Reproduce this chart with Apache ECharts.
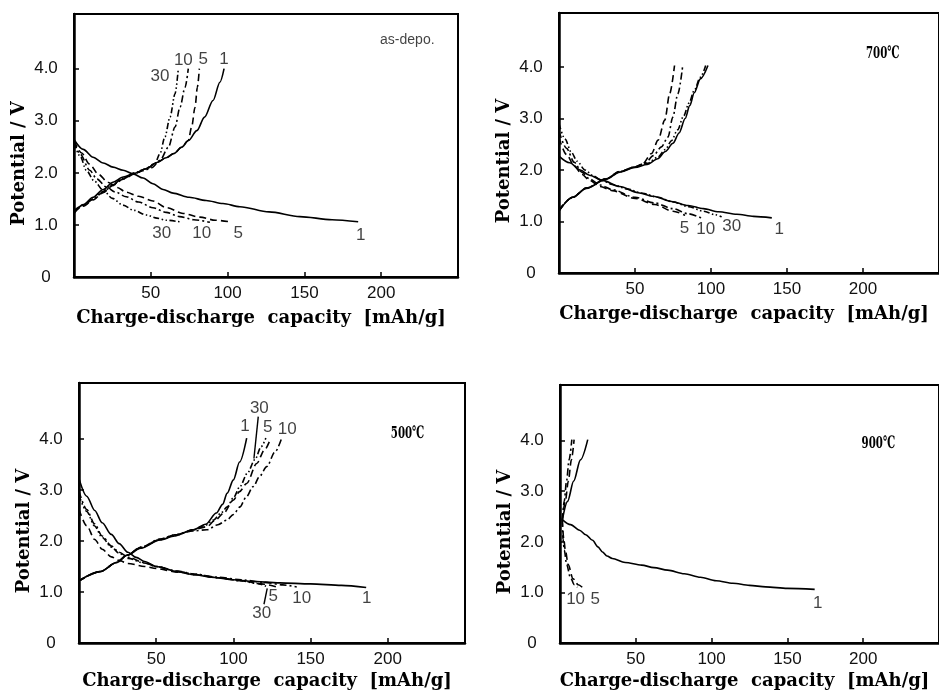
<!DOCTYPE html>
<html>
<head>
<meta charset="utf-8">
<script src="https://cdn.jsdelivr.net/npm/echarts@6/dist/echarts.min.js"></script>
<style>
  html, body { margin: 0; padding: 0; background: #fff; }
  #chart { width: 939px; height: 694px; }
</style>
</head>
<body>
<div id="chart"></div>
<script>
// Charge / discharge curves of the thin-film electrode, [capacity mAh/g, potential V]
// ---------- as-deposited ----------
const asDepoCharge1  = [[0,1.22],[6,1.39],[12.4,1.53],[19,1.68],[25.4,1.82],[32,1.92],[39.5,1.99],[47,2.08],[54,2.2],[60,2.29],[65,2.37],[70,2.49],[74.5,2.62],[80,2.81],[85,3.07],[90.5,3.39],[95,3.74],[97.7,4.0]];
const asDepoCharge5  = [[0,1.24],[6,1.36],[12.4,1.48],[19,1.62],[25.4,1.76],[32,1.88],[39.5,1.98],[47,2.08],[54,2.2],[60,2.29],[65,2.37],[70,2.49],[74.4,2.62],[76.6,2.88],[78.8,3.26],[80.3,3.64],[81.6,4.0]];
const asDepoCharge10 = [[0,1.26],[6,1.37],[12.4,1.49],[19,1.63],[25.4,1.77],[32,1.89],[39.5,1.99],[45,2.04],[50.6,2.1],[56,2.24],[61.4,2.49],[65.8,2.88],[69,3.26],[72.3,3.64],[74.4,4.0]];
const asDepoCharge30 = [[0,1.28],[6,1.38],[12.4,1.5],[19,1.64],[25.4,1.78],[32,1.9],[39.5,2.0],[46,2.07],[52.7,2.18],[56,2.37],[59.2,2.69],[62.5,3.07],[65.8,3.52],[67.9,4.0]];
const asDepoDischarge1  = [[0,2.64],[6,2.45],[12.4,2.3],[19,2.19],[25.4,2.11],[32,2.05],[38.4,1.98],[45,1.9],[51.4,1.79],[58,1.68],[64.5,1.61],[75,1.53],[86,1.47],[97,1.41],[108,1.35],[127,1.25],[147,1.16],[168,1.1],[185,1.06]];
const asDepoDischarge5  = [[0,2.62],[5,2.38],[10,2.17],[16,1.97],[22,1.82],[28,1.72],[34,1.63],[42,1.55],[51.4,1.46],[60.3,1.33],[71,1.22],[82,1.15],[92,1.09],[101.5,1.06]];
const asDepoDischarge10 = [[0,2.6],[4,2.36],[10.2,2.05],[15,1.88],[21,1.73],[27,1.63],[34,1.54],[42,1.44],[51.4,1.33],[60,1.24],[68.8,1.16],[78,1.1],[88.5,1.05]];
const asDepoDischarge30 = [[0,2.58],[4,2.32],[8,2.05],[13,1.85],[18.9,1.67],[25,1.51],[31.9,1.38],[39,1.28],[47.1,1.19],[54,1.13],[60.1,1.09],[68.8,1.06]];

// ---------- annealed at 700 °C ----------
const t700Charge1  = [[0,1.2],[9,1.47],[18,1.64],[31,1.82],[40,1.96],[50,2.05],[58,2.11],[65,2.22],[70,2.36],[75,2.52],[79,2.72],[83,3.0],[86,3.25],[89,3.5],[93,3.77],[98,4.03]];
const t700Charge5  = [[0,1.22],[9,1.47],[18,1.65],[31,1.83],[40,1.97],[50,2.06],[55,2.12],[60.9,2.32],[65.2,2.58],[69.6,2.97],[72.8,3.48],[76,4.03]];
const t700Charge10 = [[0,1.22],[9,1.47],[18,1.65],[31,1.83],[40,1.97],[50,2.06],[57,2.14],[62,2.28],[67.4,2.45],[71.7,2.64],[74.9,3.03],[78.2,3.48],[81.4,4.03]];
const t700Charge30 = [[0,1.22],[9,1.47],[18,1.65],[31,1.83],[40,1.97],[50,2.06],[58,2.13],[65,2.25],[70,2.4],[74,2.57],[78,2.78],[82,3.05],[85.5,3.3],[89,3.55],[93,3.8],[96.5,4.03]];
const t700Discharge1  = [[0,2.27],[7,2.14],[14,2.0],[20,1.9],[28.6,1.8],[40,1.68],[52,1.56],[62,1.49],[74,1.39],[85,1.31],[95,1.25],[105,1.19],[117,1.14],[128,1.1],[140,1.07]];
const t700Discharge5  = [[0,2.62],[5,2.3],[10,2.08],[15,1.92],[20,1.8],[27,1.68],[35,1.6],[50,1.45],[63,1.33],[75,1.2],[83,1.12]];
const t700Discharge10 = [[0,2.75],[5,2.42],[10,2.15],[15,1.96],[20,1.83],[27,1.71],[35,1.62],[50,1.47],[63,1.36],[75,1.25],[85,1.15],[95,1.05]];
const t700Discharge30 = [[0,2.9],[4,2.6],[8,2.35],[12,2.17],[17,2.0],[23,1.88],[28,1.8],[35,1.72],[45,1.63],[55,1.55],[65,1.47],[75,1.38],[85,1.29],[95,1.2],[103,1.13],[107,1.09]];

// ---------- annealed at 500 °C ----------
const t500Charge1  = [[0,1.22],[13.6,1.4],[24.4,1.58],[31,1.72],[40,1.86],[52.5,2.02],[62,2.1],[74,2.22],[82,2.33],[89,2.55],[93,2.72],[96,2.94],[100,3.2],[104,3.55],[108.6,4.02]];
const t500Charge5  = [[0,1.22],[13.6,1.4],[24.4,1.58],[31,1.72],[40,1.87],[52.5,2.03],[62,2.12],[74,2.22],[82.7,2.28],[88,2.4],[93.5,2.54],[99.9,2.8],[104,2.97],[108.6,3.13],[115.1,3.52],[120,3.78],[123.7,3.98]];
const t500Charge10 = [[0,1.22],[13.6,1.4],[24.4,1.58],[31,1.72],[40,1.88],[52.5,2.04],[62,2.12],[74,2.2],[82.7,2.22],[90,2.32],[95.7,2.41],[100,2.52],[104.3,2.67],[108,2.85],[112.9,3.07],[117,3.27],[121.6,3.46],[127,3.75],[131.3,4.02]];
const t500Charge30 = [[0,1.22],[13.6,1.4],[24.4,1.58],[31,1.72],[40,1.87],[52.5,2.03],[62,2.11],[74,2.22],[82,2.31],[87,2.41],[92,2.55],[96,2.67],[100,2.85],[104.3,3.07],[109,3.33],[114,3.6],[118,3.85],[121,4.02]];
const t500Discharge1  = [[0,3.22],[5,2.88],[10.2,2.6],[15,2.36],[20.9,2.13],[26,1.95],[31.7,1.78],[37,1.68],[42.5,1.6],[50,1.5],[64,1.4],[75,1.34],[86,1.29],[100,1.24],[111,1.21],[130,1.18],[150,1.16],[170,1.13],[186,1.09]];
const t500Discharge5  = [[0,2.62],[5,2.3],[10.2,2.03],[15,1.84],[20.9,1.69],[26,1.62],[31.7,1.56],[42.5,1.5],[50,1.46],[64,1.39],[75,1.34],[90,1.28],[105,1.22],[118,1.16],[128,1.1]];
const t500Discharge10 = [[0,2.97],[5,2.62],[10,2.34],[15,2.1],[21,1.9],[26,1.78],[32,1.68],[42,1.58],[50,1.5],[64,1.41],[75,1.35],[90,1.29],[105,1.24],[120,1.19],[132,1.14],[141,1.1]];
const t500Discharge30 = [[0,2.9],[5,2.58],[10,2.3],[15,2.07],[21,1.88],[26,1.76],[32,1.66],[42,1.57],[50,1.5],[64,1.4],[75,1.35],[90,1.28],[105,1.22],[115,1.17],[122,1.1]];

// ---------- annealed at 900 °C ----------
const t900Charge1  = [[1.5,2.43],[5,2.8],[9,3.2],[13.5,3.62],[18.3,4.02]];
const t900Charge5  = [[1.5,2.43],[3.5,2.8],[5.5,3.2],[7.5,3.62],[9.3,4.02]];
const t900Charge10 = [[1.5,2.43],[2.8,2.8],[4.3,3.2],[6,3.62],[7.8,4.02]];
const t900Discharge1  = [[1.5,2.44],[7,2.34],[12.9,2.23],[17,2.14],[21.5,2.03],[25,1.9],[28,1.8],[31,1.72],[34.5,1.67],[43,1.59],[53.8,1.54],[62,1.49],[71,1.44],[82,1.37],[92.6,1.3],[103,1.23],[114,1.18],[125,1.14],[135.7,1.11],[150,1.08],[168,1.06]];
const t900Discharge5  = [[1.5,2.43],[2.5,2.05],[3.5,1.84],[5.4,1.55],[8.6,1.27],[12,1.15],[15.5,1.08]];
const t900Discharge10 = [[1.5,2.43],[2,2.05],[2.8,1.84],[4.4,1.55],[6.8,1.3],[9.5,1.15],[11.5,1.1]];

// Cycle-number tags, [capacity, potential, text]
const asDepoTags = [[56,3.85,'30'],[71.2,4.17,'10'],[84.2,4.18,'5'],[97.7,4.18,'1'],[57.1,0.84,'30'],[83.1,0.84,'10'],[107,0.84,'5'],[186.6,0.8,'1']];
const t700Tags   = [[82.5,0.87,'5'],[96.5,0.84,'10'],[113.7,0.9,'30'],[144.9,0.85,'1']];
const t500Tags   = [[107.5,4.26,'1'],[116.8,4.6,'30'],[122.2,4.23,'5'],[134.9,4.19,'10'],[125.8,0.91,'5'],[118.3,0.58,'30'],[144.2,0.88,'10'],[186.3,0.88,'1']];
const t900Tags   = [[10.3,0.86,'10'],[23.3,0.86,'5'],[170,0.78,'1']];
// Leader strokes from a tag to its curve (500 °C panel)
const t500Leaders = [[[116.1,4.44],[113.3,3.62]], [[119.8,0.76],[121.9,1.07]]];

// Panel captions, [capacity, potential, text]
const panelCaptions = [[217,4.55,'as-depo.'],[213,4.27,'700℃'],[212.8,4.1,'500℃'],[210,3.95,'900℃']];

const xTicks = [50, 100, 150, 200];
const yTicks = [1, 2, 3, 4];
const yLabels = [0, 1, 2, 3, 4];

const panels = [
  { grid: { left: 74,  top: 14,  width: 384, height: 263 }, yMax: 5.05,
    curves: [
      [1, asDepoCharge1], [5, asDepoCharge5], [10, asDepoCharge10], [30, asDepoCharge30],
      [1, asDepoDischarge1], [5, asDepoDischarge5], [10, asDepoDischarge10], [30, asDepoDischarge30]
    ], tags: asDepoTags, leaders: [] },
  { grid: { left: 559, top: 13,  width: 387, height: 260 }, yMax: 5.05,
    curves: [
      [1, t700Charge1], [5, t700Charge5], [10, t700Charge10], [30, t700Charge30],
      [1, t700Discharge1], [5, t700Discharge5], [10, t700Discharge10], [30, t700Discharge30]
    ], tags: t700Tags, leaders: [] },
  { grid: { left: 79,  top: 383, width: 386, height: 260 }, yMax: 5.1,
    curves: [
      [1, t500Charge1], [5, t500Charge5], [10, t500Charge10], [30, t500Charge30],
      [1, t500Discharge1], [5, t500Discharge5], [10, t500Discharge10], [30, t500Discharge30]
    ], tags: t500Tags, leaders: t500Leaders },
  { grid: { left: 560, top: 385, width: 387, height: 258 }, yMax: 5.1,
    curves: [
      [1, t900Charge1], [5, t900Charge5], [10, t900Charge10],
      [1, t900Discharge1], [5, t900Discharge5], [10, t900Discharge10]
    ], tags: t900Tags, leaders: [] }
];

// line pattern per cycle number
const dashFor = {
  1: 'solid',
  5: [7, 4],
  10: [7, 3, 2, 3],
  30: [6, 2.5, 1.5, 2.5, 1.5, 2.5]
};

const tickFont = 'Liberation Sans, Arial, sans-serif';
const nameFont = 'DejaVu Serif, serif';
const hidden = 'rgba(0,0,0,0)';

const grids = [], xAxes = [], yAxes = [], series = [];

panels.forEach((p, i) => {
  grids.push(Object.assign({ show: true, borderColor: '#000', borderWidth: 2, containLabel: false }, p.grid));

  xAxes.push({
    gridIndex: i, type: 'value', min: 0, max: 250, interval: 50,
    axisLine: { show: true, onZero: false, lineStyle: { color: '#000', width: 2.5 } },
    axisTick: { show: true, inside: true, length: 5, customValues: xTicks, lineStyle: { color: '#000', width: 1.5 } },
    axisLabel: { customValues: xTicks, margin: 8, fontFamily: tickFont, fontSize: 17, color: '#111' },
    splitLine: { show: false },
    name: 'Charge-discharge  capacity  [mAh/g]',
    nameLocation: 'middle', nameGap: i < 2 ? 32 : 29,
    nameTextStyle: { fontFamily: nameFont, fontWeight: 'bold', fontSize: 18, color: '#000', padding: [0, 10, 0, 0] }
  });

  yAxes.push({
    gridIndex: i, type: 'value', min: 0, max: p.yMax, interval: 1,
    axisLine: { show: true, onZero: false, lineStyle: { color: '#000', width: 2.5 } },
    axisTick: { show: true, inside: true, length: 5, customValues: yTicks, lineStyle: { color: '#000', width: 1.5 } },
    axisLabel: {
      customValues: yLabels, margin: 28, align: 'center',
      fontFamily: tickFont, fontSize: 17, color: '#111',
      formatter: v => (v === 0 ? '0' : v.toFixed(1))
    },
    splitLine: { show: false },
    name: 'Potential / V',
    nameLocation: 'middle', nameGap: 46,
    nameTextStyle: { fontFamily: nameFont, fontWeight: 'bold', fontSize: 18, color: '#000', padding: [0, 36, 0, 0] }
  });

  p.curves.forEach(([cycle, data]) => {
    series.push({
      type: 'line', xAxisIndex: i, yAxisIndex: i, data,
      showSymbol: false, symbol: 'none', smooth: 0.3, smoothMonotone: 'x',
      lineStyle: { color: '#000', width: 1.6, type: dashFor[cycle] },
      silent: true, z: 3
    });
  });

  p.leaders.forEach(seg => {
    series.push({
      type: 'line', xAxisIndex: i, yAxisIndex: i, data: seg,
      showSymbol: false, symbol: 'none',
      lineStyle: { color: '#000', width: 1.4 }, silent: true, z: 3
    });
  });

  series.push({
    type: 'scatter', xAxisIndex: i, yAxisIndex: i,
    data: p.tags.map(t => ({ name: t[2], value: [t[0], t[1]] })),
    symbolSize: 2, itemStyle: { color: hidden }, silent: true, z: 4,
    label: { show: true, position: 'inside', formatter: '{b}',
             fontFamily: tickFont, fontSize: 17, color: '#111' }
  });

  // the as-deposited caption is plain text; the annealing temperatures are added below as condensed bold text
  if (i === 0) {
    const cap = panelCaptions[0];
    series.push({
      type: 'scatter', xAxisIndex: 0, yAxisIndex: 0,
      data: [{ name: cap[2], value: [cap[0], cap[1]] }],
      symbolSize: 2, itemStyle: { color: hidden }, silent: true, z: 4,
      label: { show: true, position: 'inside', formatter: '{b}', fontFamily: tickFont, fontSize: 14, color: '#111' }
    });
  }
});

const chart = echarts.init(document.getElementById('chart'), null, { renderer: 'canvas' });
chart.setOption({
  backgroundColor: '#fff',
  animation: false,
  grid: grids,
  xAxis: xAxes,
  yAxis: yAxes,
  series
});

// temperature captions: placed through each panel's own scales, drawn horizontally condensed
const captionGraphics = panelCaptions.slice(1).map((cap, k) => {
  const gi = k + 1;
  const pt = chart.convertToPixel({ gridIndex: gi }, [cap[0], cap[1]]);
  return {
    type: 'text', x: pt[0], y: pt[1], scaleX: 0.6, z: 10, silent: true,
    style: {
      text: cap[2], font: 'bold 17px "DejaVu Serif", serif', fill: '#000',
      align: 'center', verticalAlign: 'middle'
    }
  };
});
chart.setOption({ graphic: captionGraphics });
</script>
</body>
</html>
